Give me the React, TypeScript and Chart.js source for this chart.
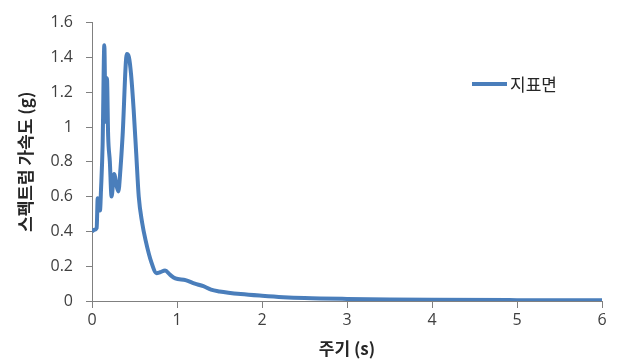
import React, { useEffect, useRef } from "react";
import { Chart, registerables } from "chart.js";

Chart.register(...registerables);

const periods = [0, 0.03, 0.055, 0.067, 0.08, 0.094, 0.106, 0.125, 0.145, 0.16, 0.176, 0.19, 0.21, 0.23, 0.26, 0.29, 0.31, 0.335, 0.36, 0.41, 0.435, 0.46, 0.49, 0.52, 0.55, 0.59, 0.63, 0.7, 0.76, 0.8, 0.86, 0.92, 0.98, 1.1, 1.21, 1.31, 1.4, 1.5, 1.75, 2, 2.25, 2.5, 3, 3.5, 4, 5, 6];
const accel = [0.4, 0.41, 0.42, 0.59, 0.55, 0.52, 0.64, 0.9, 1.47, 1.03, 1.28, 0.95, 0.8, 0.6, 0.73, 0.66, 0.63, 0.76, 0.95, 1.42, 1.4, 1.3, 1.1, 0.85, 0.6, 0.45, 0.35, 0.22, 0.16, 0.165, 0.175, 0.15, 0.13, 0.12, 0.1, 0.085, 0.065, 0.055, 0.04, 0.03, 0.022, 0.017, 0.012, 0.009, 0.007, 0.005, 0.004];
const seriesName = "지표면";
const xTitle = "주기 (s)";
const yTitle = "스펙트럼 가속도 (g)";

const legendPlugin = {
  id: "customLegend",
  afterDraw(chart: any) {
    const ctx = chart.ctx;
    const ds = chart.data.datasets[0];
    ctx.save();
    ctx.strokeStyle = ds.borderColor;
    ctx.lineWidth = 4;
    ctx.beginPath();
    ctx.moveTo(472, 84);
    ctx.lineTo(507, 84);
    ctx.stroke();
    ctx.fillStyle = "#262626";
    ctx.font = "17px 'Noto Sans CJK KR'";
    ctx.textBaseline = "middle";
    ctx.fillText(ds.label, 510, 85);
    ctx.restore();
  },
};

export default function App() {
  const ref = useRef<HTMLCanvasElement>(null);
  useEffect(() => {
    if (!ref.current) return;
    const chart = new Chart(ref.current, {
      type: "line",
      data: {
        datasets: [
          {
            label: seriesName,
            data: periods.map((p, i) => ({ x: p, y: accel[i] })),
            borderColor: "#4A7EBB",
            borderWidth: 4,
            pointRadius: 0,
            cubicInterpolationMode: "monotone",
            fill: false,
          },
        ],
      },
      options: {
        animation: false,
        responsive: false,
        maintainAspectRatio: false,
        layout: { padding: { top: 19, right: 17, left: 0, bottom: 0 } },
        plugins: { legend: { display: false }, tooltip: { enabled: false } },
        scales: {
          x: {
            type: "linear",
            min: 0,
            max: 6,
            grid: { display: true, drawOnChartArea: false, drawTicks: true, tickLength: 7, color: "#808080" },
            border: { color: "#808080", width: 1 },
            ticks: { stepSize: 1, color: "#404040", font: { size: 16, family: "'Open Sans', sans-serif" }, padding: 3, maxRotation: 0 },
            title: { display: true, text: xTitle, color: "#262626", font: { size: 17, weight: "bold", family: "'Noto Sans CJK KR'" }, padding: { top: -4, bottom: 0 } },
            afterFit: (s: any) => { s.height = 58; },
          },
          y: {
            min: 0,
            max: 1.6,
            grid: { display: true, drawOnChartArea: false, drawTicks: true, tickLength: 6, color: "#808080" },
            border: { color: "#808080", width: 1 },
            ticks: { stepSize: 0.2, color: "#404040", font: { size: 16, family: "'Open Sans', sans-serif" }, padding: 13,
              callback: (v: any) => String(Math.round(Number(v) * 10) / 10) },
            title: { display: true, text: yTitle, color: "#262626", font: { size: 17, weight: "bold", family: "'Noto Sans CJK KR'" }, padding: { top: 15, bottom: 0 } },
            afterFit: (s: any) => { s.width = 92; },
          },
        },
      },
      plugins: [legendPlugin],
    });
    return () => chart.destroy();
  }, []);
  return (
    <div style={{ position: "fixed", left: 0, top: 0, width: 619, height: 359, background: "#fff" }}>
      <canvas ref={ref} width={619} height={359} />
    </div>
  );
}
